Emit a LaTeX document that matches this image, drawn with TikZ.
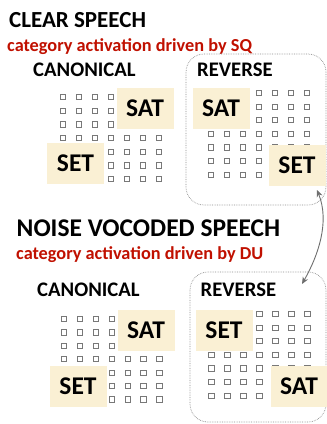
\documentclass[tikz,border=0pt]{standalone}
\usepackage{fontspec}
\setmainfont{Carlito}
\usetikzlibrary{arrows.meta}
\definecolor{boxfill}{RGB}{250,240,212}
\definecolor{subred}{RGB}{192,16,0}
\definecolor{sqgray}{RGB}{120,120,120}
\definecolor{arrgray}{RGB}{110,110,110}
\newcommand\sqgrid[4]{%
  \foreach \i in {0,...,6}{\foreach \j in {0,...,6}{%
    \draw[sqr] ({#1+#3*\i-2.6},{#2+#4*\j-2.6}) rectangle ++(5.2,5.2);}}}
\begin{document}
\begin{tikzpicture}[x=1pt,y=-1pt,
  title/.style={font=\bfseries\fontsize{23}{27}\selectfont, anchor=west, inner sep=0pt},
  sub/.style={font=\bfseries\fontsize{18.3}{22}\selectfont, text=subred, anchor=west, inner sep=0pt},
  cond/.style={font=\bfseries\fontsize{20.7}{24}\selectfont, anchor=west, inner sep=0pt},
  catbox/.style={fill=boxfill, draw=none, minimum width=57pt, minimum height=41pt, inner sep=0pt,
                 font=\bfseries\fontsize{25.5}{29}\selectfont},
  sqr/.style={draw=sqgray, line width=1pt},
  group/.style={draw=gray!90, densely dotted, line width=0.7pt, rounded corners=18pt},
  link/.style={draw=arrgray, line width=0.9pt, {Stealth[length=7pt,width=6pt]}-{Stealth[length=7pt,width=6pt]}}]
\useasboundingbox (0,0) rectangle (327,424);

% ---------- CLEAR SPEECH ----------
\node[title] (t1) at (9,20) {CLEAR SPEECH};
\node[sub] (s1) at (7,47) {category activation driven by SQ};
\node[cond] (c1) at (33,70) {CANONICAL};
\node[cond] (r1) at (197,70) {REVERSE};
\draw[group] (186,54) rectangle (326,205);

\sqgrid{63}{97}{16}{13.7}
\sqgrid{211}{93}{16}{13.6}
\node[catbox] (sat1) at (145,108) {SAT};
\node[catbox] (set1) at (75.5,163.5) {SET};
\node[catbox] (sat2) at (221,108) {SAT};
\node[catbox] (set2) at (297,165.5) {SET};

% ---------- NOISE VOCODED SPEECH ----------
\node[title, font=\bfseries\fontsize{25.5}{29}\selectfont] (t2) at (16.5,228) {NOISE VOCODED SPEECH};
\node[sub] (s2) at (16,255) {category activation driven by DU};
\node[cond] (c2) at (37,290) {CANONICAL};
\node[cond] (r2) at (200.5,290) {REVERSE};
\draw[group] (190,272) rectangle (326,422);

\sqgrid{64}{319}{15.9}{13.4}
\sqgrid{211.5}{314}{16}{13.6}
\node[catbox] (sat3) at (146,330) {SAT};
\node[catbox] (set3) at (78,386) {SET};
\node[catbox] (set4) at (224,330) {SET};
\node[catbox] (sat4) at (299,386.5) {SAT};

% ---------- arrow between reverse panels ----------
\coordinate (ea) at (302,284);
\coordinate (eb) at (317,190);
\draw[link] (ea) .. controls (318,256) and (330,222) .. (eb);
\end{tikzpicture}
\end{document}
